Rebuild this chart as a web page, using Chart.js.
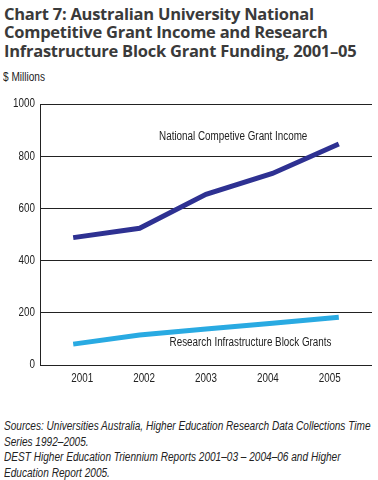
<!DOCTYPE html>
<html>
<head>
<meta charset="utf-8">
<script src="https://cdn.jsdelivr.net/npm/chart.js@4"></script>
<style>
	body { margin: 0; width: 378px; height: 480px; background: #fff; position: relative; overflow: hidden; }
	#title { position: absolute; left: 4px; top: 5px; font-family: "Open Sans", sans-serif; font-weight: bold; font-size: 16.5px; line-height: 18.3px; color: #3a3a3a; letter-spacing: -0.25px; }
	.narrow { font-family: "Liberation Sans", Arial, sans-serif; color: #222; white-space: nowrap; transform: scaleX(0.84); transform-origin: 0 0; }
	#unit { position: absolute; left: 3px; top: 70px; font-size: 12px; }
	#box { position: absolute; left: 0; top: 85px; width: 378px; height: 315px; }
	#notes { position: absolute; left: 4px; top: 419px; font-style: italic; font-size: 12px; line-height: 15.5px; }
</style>
</head>
<body>
<div id="title">Chart 7: Australian University National<br>Competitive Grant Income and Research<br>Infrastructure Block Grant Funding, 2001–05</div>
<div id="unit" class="narrow">$ Millions</div>
<div id="box"><canvas id="chart"></canvas></div>
<div id="notes" class="narrow">Sources: Universities Australia, Higher Education Research Data Collections Time<br>Series 1992–2005.<br>DEST Higher Education Triennium Reports 2001–03 – 2004–06 and Higher<br>Education Report 2005.</div>
<script>
var years = ['2001', '2002', '2003', '2004', '2005'];
var grantIncome = [488, 524, 654, 734, 847];
var blockGrants = [80, 115, 138, 160, 183];
var yTicks = [0, 200, 400, 600, 800, 1000];

var FONT = '12px "Liberation Sans", Arial, sans-serif';
var SQUEEZE = 0.82;

// narrow text like the original condensed face
function narrowText(c, text, x, y, align) {
	c.save();
	c.font = FONT;
	c.fillStyle = '#222';
	c.textBaseline = 'middle';
	c.textAlign = align;
	c.translate(x, y);
	c.scale(SQUEEZE, 1);
	c.fillText(text, 0, 0);
	c.restore();
}

// tick labels and line labels, all placed through the scales
var textLayer = {
	id: 'textLayer',
	afterDraw: function(chart) {
		var c = chart.ctx;
		var x = chart.scales.x, y = chart.scales.y;
		y.ticks.forEach(function(t) {
			narrowText(c, String(t.value), x.left - 5, y.getPixelForValue(t.value), 'right');
		});
		// year labels in the original sit a little closer together than the points
		years.forEach(function(lab, i) {
			narrowText(c, lab, x.getPixelForValue(i) + (2 - i) * 4.5, y.bottom + 14, 'center');
		});
		var step = x.getPixelForValue(1) - x.getPixelForValue(0);
		narrowText(c, 'National Competive Grant Income', x.getPixelForValue(0) + 2.41 * step, y.getPixelForValue(873), 'center');
		narrowText(c, 'Research Infrastructure Block Grants', x.getPixelForValue(0) + 2.67 * step, y.getPixelForValue(84), 'center');
	}
};

new Chart(document.getElementById('chart'), {
	type: 'line',
	data: {
		labels: years,
		datasets: [{
			label: 'National Competive Grant Income',
			data: grantIncome,
			borderColor: '#2e3192',
			borderWidth: 5,
			pointRadius: 0,
			tension: 0
		},
		{
			label: 'Research Infrastructure Block Grants',
			data: blockGrants,
			borderColor: '#29aae2',
			borderWidth: 5,
			pointRadius: 0,
			tension: 0
		}]
	},
	options: {
		responsive: true,
		maintainAspectRatio: false,
		animation: false,
		layout: { padding: { left: 40, right: 6, top: 19, bottom: 35 } },
		plugins: {
			legend: { display: false },
			tooltip: { enabled: false }
		},
		scales: {
			x: {
				offset: true,
				grid: { display: false, drawTicks: false },
				border: { display: false },
				ticks: { display: false }
			},
			y: {
				min: 0,
				max: 1000,
				afterBuildTicks: function(axis) {
					axis.ticks = yTicks.map(function(v) { return { value: v }; });
				},
				grid: { color: '#222', lineWidth: 1, drawTicks: false },
				border: { color: '#222', width: 1 },
				ticks: { display: false }
			}
		}
	},
	plugins: [textLayer]
});
</script>
</body>
</html>
